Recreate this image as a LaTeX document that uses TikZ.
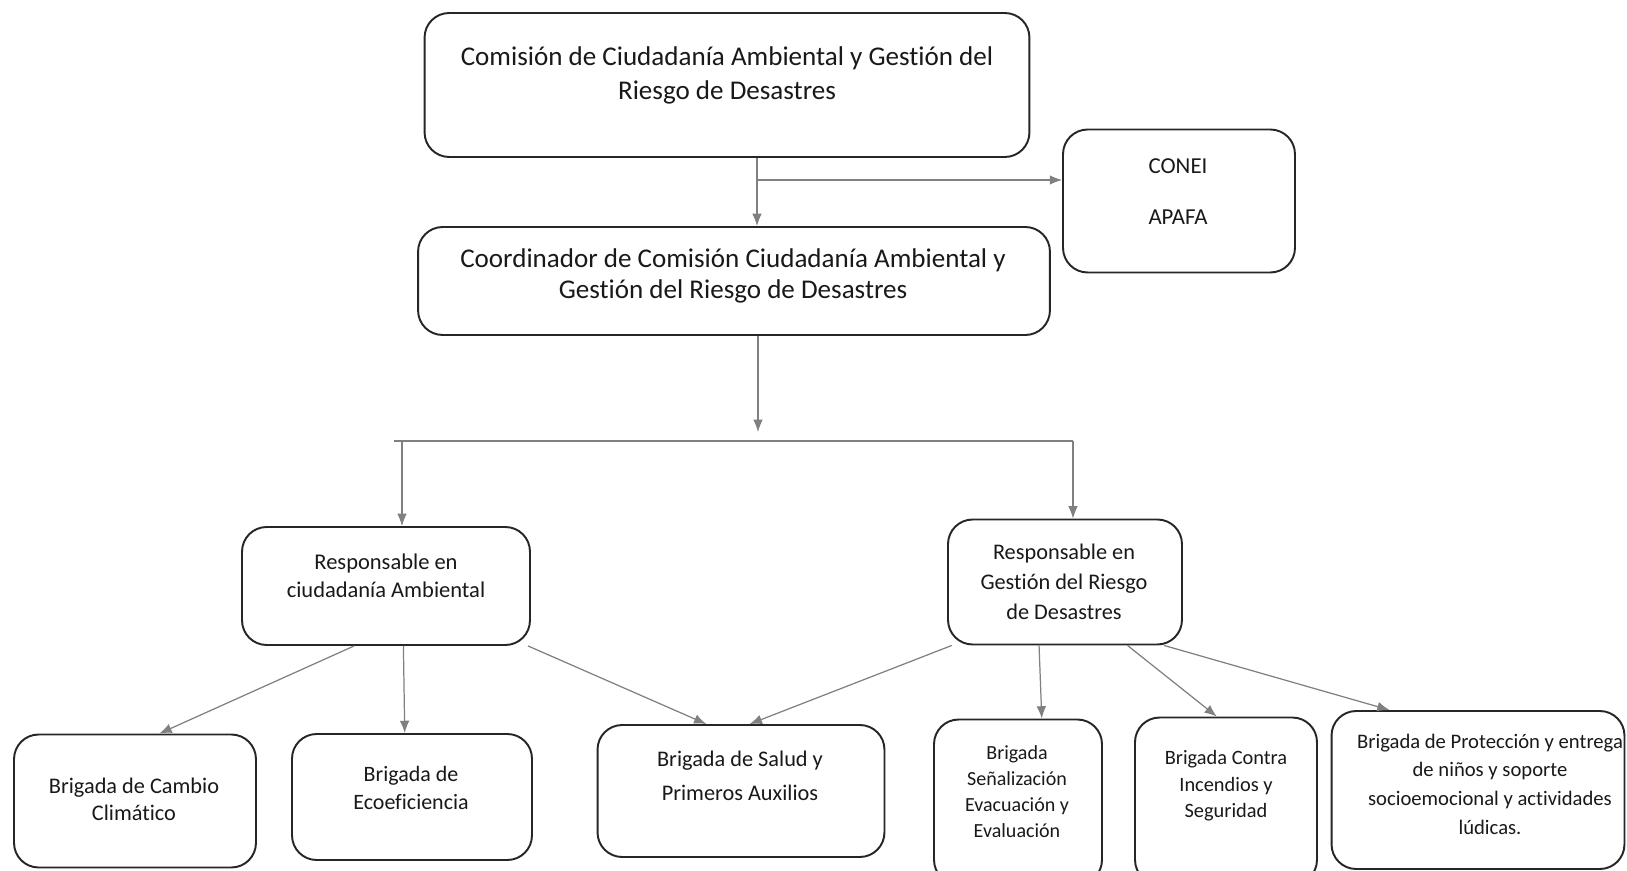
\documentclass[tikz,border=0pt]{standalone}
\usepackage{fontspec}
\setmainfont{Carlito}[Ligatures=NoCommon]
\usepackage{tikz}
\usetikzlibrary{arrows.meta,positioning,calc}

\tikzset{
  caja/.style={draw=black!85, line width=1.1pt, rounded corners=14pt},
  texto/.style={align=center, text=black!90, inner sep=0pt},
  linea/.style={draw=black!50, line width=0.7pt},
  flecha/.style={linea, -{Latex[length=7pt,width=5.5pt]}},
}

\begin{document}
\begin{tikzpicture}[x=0.02cm,y=-0.02cm]
\useasboundingbox[fill=white] (0,0) rectangle (1627,871);

% cajas superiores
\node[caja, minimum width=12.1cm, minimum height=2.88cm] (comision) at (727,85) {};
\node[texto, font=\fontsize{15.4}{19.3}\selectfont] (comisionT) at (727,75)
  {Comisión de Ciudadanía Ambiental y Gestión del\\Riesgo de Desastres};

\node[caja, minimum width=4.64cm, minimum height=2.86cm] (conei) at (1179,201) {};
\node[texto, font=\fontsize{13}{29}\selectfont] (coneiT) at (1178,192) {CONEI\\APAFA};

\node[caja, minimum width=12.64cm, minimum height=2.16cm] (coord) at (734,281) {};
\node[texto, font=\fontsize{15.4}{17.5}\selectfont] (coordT) at (733,276)
  {Coordinador de Comisión Ciudadanía Ambiental y\\Gestión del Riesgo de Desastres};

% responsables
\node[caja, minimum width=5.76cm, minimum height=2.36cm] (respA) at (386,586) {};
\node[texto, font=\fontsize{12.8}{16}\selectfont] (respAT) at (386,576)
  {Responsable en\\ciudadanía Ambiental};

\node[caja, minimum width=4.68cm, minimum height=2.5cm] (respG) at (1065,582) {};
\node[texto, font=\fontsize{12.7}{17}\selectfont] (respGT) at (1064,582)
  {Responsable en\\Gestión del Riesgo\\de Desastres};

% brigadas
\node[caja, minimum width=4.84cm, minimum height=2.66cm] (cambio) at (135,801) {};
\node[texto, font=\fontsize{12.7}{15.4}\selectfont] (cambioT) at (134,799)
  {Brigada de Cambio\\Climático};

\node[caja, minimum width=4.8cm, minimum height=2.52cm] (eco) at (412,797) {};
\node[texto, font=\fontsize{12.5}{16}\selectfont] (ecoT) at (411,788)
  {Brigada de\\Ecoeficiencia};

\node[caja, minimum width=5.74cm, minimum height=2.64cm] (salud) at (741,791) {};
\node[texto, font=\fontsize{12.7}{19.3}\selectfont] (saludT) at (740,776)
  {Brigada de Salud y\\Primeros Auxilios};

\node[caja, minimum width=3.36cm, minimum height=3.3cm] (senal) at (1018,802) {};
\node[texto, font=\fontsize{11.4}{14.8}\selectfont] (senalT) at (1017,792)
  {Brigada\\Señalización\\Evacuación y\\Evaluación};

\node[caja, minimum width=3.64cm, minimum height=3.34cm] (incendio) at (1226,801) {};
\node[texto, font=\fontsize{11.6}{15}\selectfont] (incendioT) at (1226,786)
  {Brigada Contra\\Incendios y\\Seguridad};

\node[caja, minimum width=5.86cm, minimum height=3.16cm] (proteccion) at (1478,790) {};
\node[texto, font=\fontsize{11.75}{16.3}\selectfont] (proteccionT) at (1490,784)
  {Brigada de Protección y entrega\\de niños y soporte\\socioemocional y actividades\\lúdicas.};

% conectores
\coordinate (split) at (757,180);
\draw[linea] (comision.south -| split) -- (split);
\draw[flecha] (split) -- (coord.north -| split);
\draw[flecha] (split) -- (conei.west |- split);

\coordinate (bajada) at (758,432);
\draw[flecha] (coord.south -| bajada) -- (bajada);

\coordinate (busL) at (394,441);
\coordinate (busR) at (1073,441);
\draw[linea] (busL) -- (busR);
\draw[flecha] ([xshift=8*0.02cm]busL) -- ([xshift=8*0.02cm]busL |- respA.north);
\draw[flecha] (busR) -- (busR |- respG.north);

\foreach \s/\a/\t/\b in {respA/0.39/cambio/0.6, respA/0.56/eco/0.47, respA/0.99/salud/0.38,
    respG/0.02/salud/0.53, respG/0.39/senal/0.64, respG/0.765/incendio/0.45,
    respG/0.92/proteccion/0.2} {
  \draw[flecha] ($(\s.south west)!\a!(\s.south east)$) -- ($(\t.north west)!\b!(\t.north east)$);
}
\end{tikzpicture}
\end{document}
